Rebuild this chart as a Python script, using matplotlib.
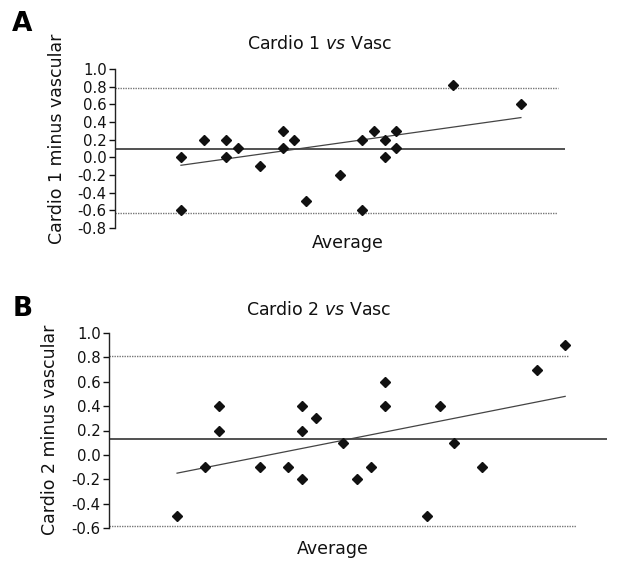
import matplotlib
matplotlib.use("Agg")
import matplotlib.pyplot as plt
import numpy as np

plt.rcParams['font.family'] = ['DejaVu Sans']
plt.rcParams['mathtext.fontset'] = 'dejavusans'

# Panel A data (x = average, arbitrary units; y = difference)
a_x = [0, 0, 2, 4, 4, 5, 7, 9, 9, 10, 11, 14, 16, 16, 17, 18, 18, 19, 19, 24, 30]
a_y = [0.0, -0.6, 0.2, 0.2, 0.0, 0.1, -0.1, 0.3, 0.1, 0.2, -0.5, -0.2, 0.2, -0.6,
       0.3, 0.2, 0.0, 0.3, 0.1, 0.82, 0.6]
a_mean = 0.09
a_upper = 0.79
a_lower = -0.63
a_fit = (-0.09, 0.45)
a_yticks = [1.0, 0.8, 0.6, 0.4, 0.2, 0.0, -0.2, -0.4, -0.6, -0.8]

# Panel B data
b_x = [0, 2, 3, 3, 6, 8, 9, 9, 9, 10, 12, 13, 14, 15, 15, 18, 19, 20, 22, 26, 28]
b_y = [-0.5, -0.1, 0.4, 0.2, -0.1, -0.1, 0.4, 0.2, -0.2, 0.3, 0.1, -0.2, -0.1,
       0.6, 0.4, -0.5, 0.4, 0.1, -0.1, 0.7, 0.9]
b_mean = 0.13
b_upper = 0.81
b_lower = -0.58
b_fit = (-0.15, 0.48)
b_yticks = [1.0, 0.8, 0.6, 0.4, 0.2, 0.0, -0.2, -0.4, -0.6]

W, H = 630, 571
fig = plt.figure(figsize=(W/100, H/100), dpi=100)

def fx(px): return px / W
def fy(py): return 1 - py / H

def panel(left, right, top, bottom, xs, ys, mean, upper, lower, fit, yticks,
          xlim, ylim, dot_end_up, dot_end_lo):
    ax = fig.add_axes([fx(left), fy(bottom), fx(right - left), (bottom - top) / H])
    ax.set_xlim(*xlim)
    ax.set_ylim(*ylim)
    for s in ['top', 'right', 'bottom']:
        ax.spines[s].set_visible(False)
    ax.spines['left'].set_linewidth(1.0)
    ax.spines['left'].set_color('#222222')
    ax.set_xticks([])
    ax.set_yticks(yticks)
    ax.set_yticklabels([f"{t:.1f}" for t in yticks])
    ax.tick_params(axis='y', direction='out', length=4, width=1.0,
                   labelsize=10.7, pad=2, colors='#111111')
    ax.axhline(mean, color='#222222', lw=1.1)
    ax.hlines(upper, xlim[0], dot_end_up, colors='#777777', lw=1.0,
              linestyles=(0, (1, 0.8)))
    ax.hlines(lower, xlim[0], dot_end_lo, colors='#777777', lw=1.0,
              linestyles=(0, (1, 0.8)))
    ax.plot([min(xs), max(xs)], list(fit), color='#444444', lw=0.9)
    ax.plot(xs, ys, linestyle='none', marker='D', ms=5.5, color='#111111')
    return ax

panel(115, 565, 69, 228, a_x, a_y, a_mean, a_upper, a_lower, a_fit, a_yticks,
      (-5.82, 33.89), (-0.8, 1.0), 33.3, 33.2)
panel(109, 607, 333, 528, b_x, b_y, b_mean, b_upper, b_lower, b_fit, b_yticks,
      (-4.91, 31.02), (-0.6, 1.0), 28.3, 28.8)

tkw = dict(fontsize=12.5, color='#111111', ha='center', va='center')
fig.text(fx(320), fy(44), r"Cardio 1 $\it{vs}$ Vasc", **tkw)
fig.text(fx(319), fy(310), r"Cardio 2 $\it{vs}$ Vasc", **tkw)
fig.text(fx(348), fy(243), "Average", **tkw)
fig.text(fx(333), fy(549), "Average", **tkw)
fig.text(fx(57), fy(139), "Cardio 1 minus vascular", rotation=90, **tkw)
fig.text(fx(50), fy(430), "Cardio 2 minus vascular", rotation=90, **tkw)
fig.text(fx(22), fy(24), "A", fontsize=19, fontweight='bold', ha='center', va='center')
fig.text(fx(23), fy(309), "B", fontsize=19, fontweight='bold', ha='center', va='center')

fig.savefig("out.png", dpi=100)
